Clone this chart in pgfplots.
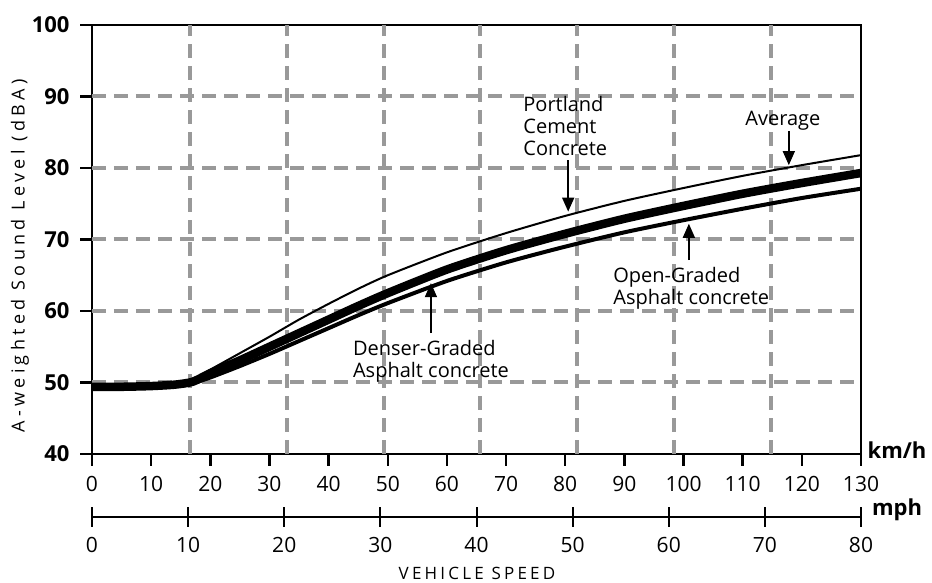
\documentclass[border=0pt]{standalone}
\usepackage{fontspec}
\setmainfont{Open Sans}
\usepackage{pgfplots}
\usepackage{pgfplotstable}
\pgfplotsset{compat=1.18}
\usetikzlibrary{arrows.meta}

\pgfplotstableread{
x     pcc   avg   ogac
0     49.5  49.4  49.4
5     49.5  49.4  49.4
10    49.6  49.5  49.5
14    49.8  49.7  49.6
17    50.4  50.1  49.9
20    51.8  51.3  50.7
25    54.1  53.1  52.3
30    56.4  55.0  54.0
35    58.8  56.9  55.8
40    61.0  58.8  57.6
45    63.1  60.7  59.4
50    65.0  62.5  61.1
60    68.2  65.8  64.2
70    70.9  68.5  66.8
80    73.3  70.8  69.0
90    75.4  72.9  71.0
100   77.2  74.7  72.7
110   78.9  76.4  74.3
120   80.4  77.9  75.8
130   81.8  79.3  77.1
}\data

\begin{document}
\begin{tikzpicture}
\begin{axis}[
  at={(0,0)}, anchor=south west,
  width=769pt, height=429pt, scale only axis,
  xmin=0, xmax=130, ymin=40, ymax=100,
  xtick={0,10,...,130}, ytick={40,50,...,100},
  tick pos=left, tick align=outside,
  major tick length=12pt,
  tick style={black, line width=2.5pt},
  axis line style={line width=2.8pt},
  extra x ticks={16.57,32.97,49.4,65.6,82.0,98.4,114.8},
  extra x tick labels={},
  extra x tick style={grid=major, major tick length=0pt},
  extra y ticks={50,60,70,80,90},
  extra y tick labels={},
  extra y tick style={grid=major, major tick length=0pt},
  major grid style={black!40, line width=4pt, dash pattern=on 14pt off 8pt},
  /pgf/number format/assume math mode=true,
  xticklabel style={font=\fontsize{21}{21}\selectfont, yshift=-7pt},
  yticklabel style={font=\fontsize{22}{22}\selectfont\bfseries, xshift=-7pt},
  clip=false,
]
\addplot[black, line width=2pt, smooth, tension=0.4] table[x=x, y=pcc]{\data};
\addplot[black, line width=4pt, smooth, tension=0.4] table[x=x, y=ogac]{\data};
\addplot[black, line width=8.5pt, smooth, tension=0.4] table[x=x, y=avg]{\data};

\node[anchor=north west, align=left, inner sep=0pt, font=\fontsize{20}{22}\selectfont] at (axis cs:72.9,90.1) {Portland\\Cement\\Concrete};
\draw[-{Triangle[width=12pt,length=14pt]}, line width=1.5pt] (axis cs:80.5,81.1) -- (axis cs:80.5,73.9);

\node[inner sep=0pt, font=\fontsize{20}{22}\selectfont] at (axis cs:116.8,86.6) {Average};
\draw[-{Triangle[width=12pt,length=14pt]}, line width=1.5pt] (axis cs:117.8,85.2) -- (axis cs:117.8,80.4);

\node[anchor=north west, align=left, inner sep=0pt, font=\fontsize{20}{22}\selectfont] at (axis cs:88.1,66.15) {Open-Graded\\Asphalt concrete};
\draw[-{Triangle[width=12pt,length=14pt]}, line width=1.5pt] (axis cs:100.9,67.1) -- (axis cs:100.9,72.2);

\node[anchor=north west, align=left, inner sep=0pt, font=\fontsize{20}{22}\selectfont] at (axis cs:44.1,55.9) {Denser-Graded\\Asphalt concrete};
\draw[-{Triangle[width=12pt,length=14pt]}, line width=1.5pt] (axis cs:57.3,56.9) -- (axis cs:57.3,63.9);
\end{axis}

\begin{axis}[
  at={(0,-63pt)}, anchor=south west,
  width=769pt, height=20pt, scale only axis,
  xmin=0, xmax=80, ymin=0, ymax=1,
  axis x line*=bottom, hide y axis,
  xtick={0,10,...,80}, xtick align=center,
  major tick length=20pt,
  tick style={black, line width=2pt},
  axis line style={line width=2pt},
  /pgf/number format/assume math mode=true,
  xticklabel style={font=\fontsize{21}{21}\selectfont, yshift=-7pt},
]
\end{axis}

\node[font=\fontsize{22}{22}\selectfont\bfseries] at (805pt,4pt) {km/h};
\node[font=\fontsize{22}{22}\selectfont\bfseries] at (805pt,-56pt) {mph};
\node[font=\fontsize{17}{17}\selectfont\addfontfeature{LetterSpace=19}] at (385pt,-119pt) {VEHICLE SPEED};
\node[rotate=90, font=\fontsize{18}{18}\selectfont\addfontfeature{LetterSpace=24}] at (-72pt,198pt) {A-weighted Sound Level (dBA)};

\pgfresetboundingbox
\useasboundingbox (-92pt,-129pt) rectangle (840pt,454pt);
\end{tikzpicture}
\end{document}
